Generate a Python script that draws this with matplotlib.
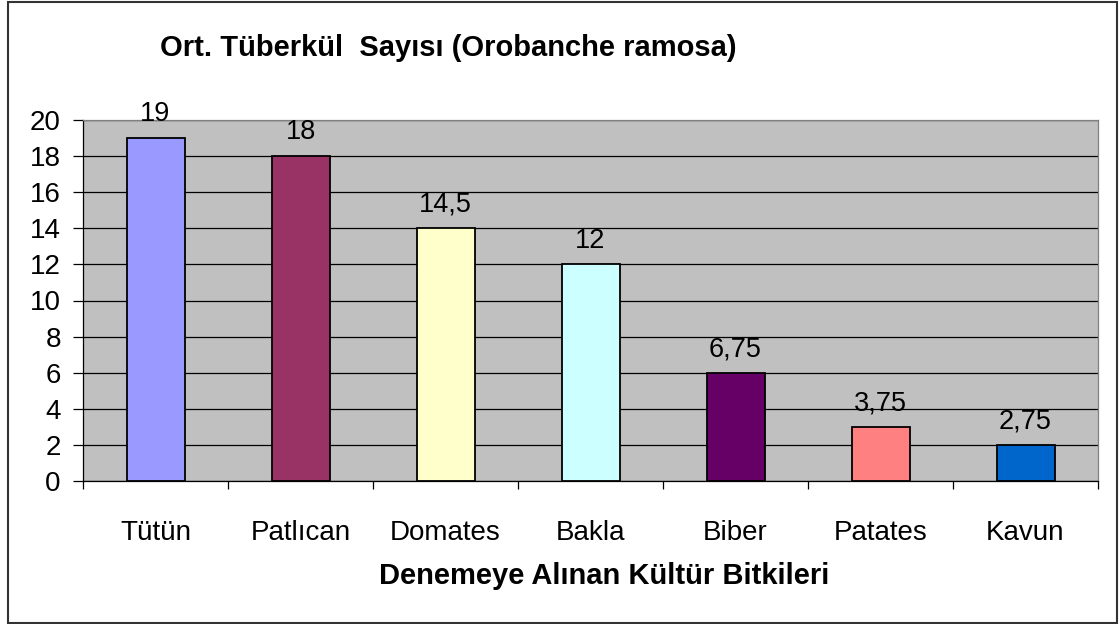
import matplotlib.pyplot as plt
from matplotlib.patches import Rectangle
import numpy as np

# data
crops = ["Tütün", "Patlıcan", "Domates", "Bakla", "Biber", "Patates", "Kavun"]
bar_heights = [19, 18, 14, 12, 6, 3, 2]
label_values = [19, 18, 14.5, 12, 6.75, 3.75, 2.75]
colors = ["#9999FF", "#993366", "#FFFFCC", "#CCFFFF", "#660066", "#FF8080", "#0066CC"]
yticks = [0, 2, 4, 6, 8, 10, 12, 14, 16, 18, 20]

plt.rcParams["font.family"] = ["Liberation Sans", "DejaVu Sans"]

fig = plt.figure(figsize=(11.19, 6.24), dpi=100)
ax = fig.add_axes([83 / 1119, 1 - 481 / 624, (1098 - 83) / 1119, (481 - 120) / 624])
ax.set_facecolor("#C0C0C0")

x = np.arange(len(crops))
ax.bar(x, bar_heights, width=0.4, color=colors, edgecolor="black", linewidth=1.3, zorder=3)

for xi, h, v in zip(x, bar_heights, label_values):
    txt = f"{v:g}".replace(".", ",")
    ax.annotate(txt, (xi, h), xytext=(0, 12), textcoords="offset points",
                ha="center", va="baseline", fontsize=19.5)

ax.set_xlim(-0.5, len(crops) - 0.5)
ax.set_ylim(0, 20)
ax.set_yticks(yticks)
ax.yaxis.grid(True, color="black", linewidth=0.9, zorder=0)
ax.set_axisbelow(True)
ax.tick_params(axis="y", length=7, width=0.9, pad=9, labelsize=20, direction="out")

# boundary ticks on x, labels on centers
ax.set_xticks(np.arange(-0.5, len(crops), 1.0))
ax.set_xticklabels([])
ax.tick_params(axis="x", which="major", length=6, width=0.9, direction="out")
ax.set_xticks(x, minor=True)
ax.set_xticklabels(crops, minor=True)
ax.tick_params(axis="x", which="minor", length=0, pad=28, labelsize=20)

for s in ["left", "bottom"]:
    ax.spines[s].set_color("black")
    ax.spines[s].set_linewidth(0.9)
for s in ["top", "right"]:
    ax.spines[s].set_color("#808080")
    ax.spines[s].set_linewidth(0.9)

fig.text(448 / 1119, 1 - 48 / 624, "Ort. Tüberkül  Sayısı (Orobanche ramosa)",
         ha="center", va="center", fontsize=21, fontweight="bold")
fig.text(604 / 1119, 1 - 576 / 624, "Denemeye Alınan Kültür Bitkileri",
         ha="center", va="center", fontsize=21, fontweight="bold")

fig.patches.append(Rectangle((8 / 1119, 1 / 624), (1117 - 8) / 1119, 621 / 624,
                             transform=fig.transFigure, fill=False,
                             edgecolor="#333333", linewidth=1.5))

fig.savefig("out.png", dpi=100)
